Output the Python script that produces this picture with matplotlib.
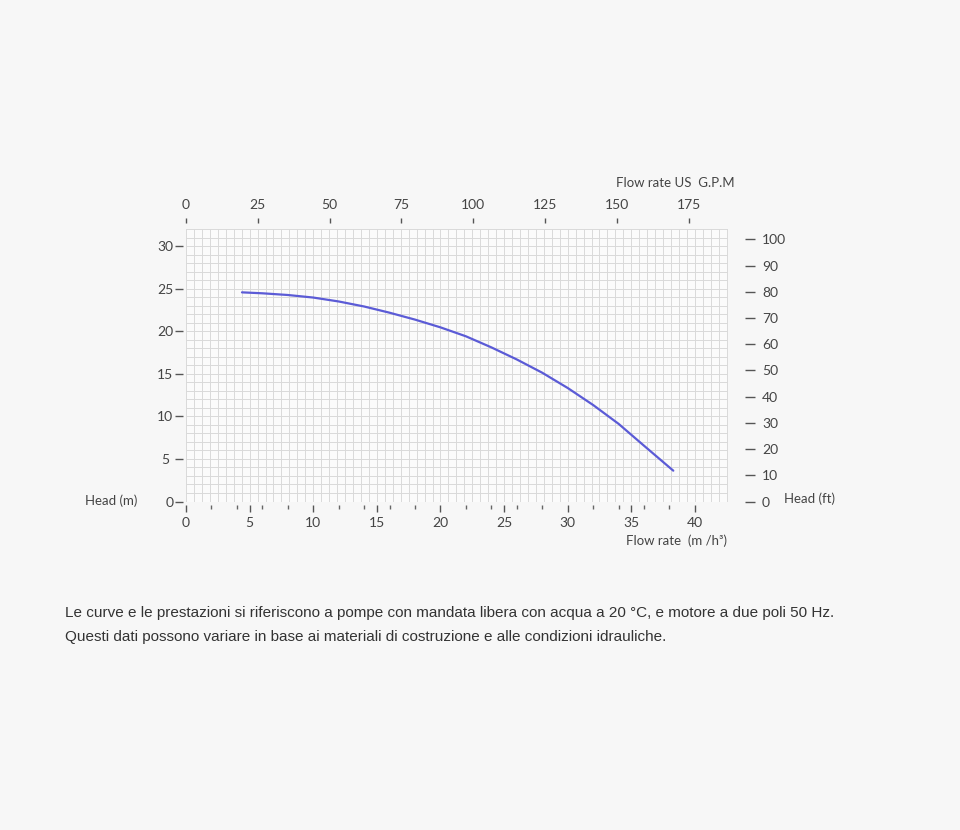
import numpy as np
import matplotlib
matplotlib.use("Agg")
import matplotlib.pyplot as plt
from matplotlib.ticker import FixedLocator

# ---- data ----
flow_m3h = [4.4, 6, 8, 10, 12, 14, 16, 18, 20, 22, 24, 26, 28, 30, 32, 34, 36, 38.3]
head_m = [24.56, 24.45, 24.25, 23.95, 23.49, 22.9, 22.17, 21.36, 20.45, 19.4,
          18.1, 16.68, 15.12, 13.33, 11.33, 9.12, 6.55, 3.62]

head_m_ticks = [0, 5, 10, 15, 20, 25, 30]
head_m_labels = ["0", "5 ", "10", "15", "20", "25", "30"]
flow_ticks = [0, 5, 10, 15, 20, 25, 30, 35, 40]
flow_minor = [2, 4, 6, 8, 12, 14, 16, 18, 22, 24, 26, 28, 32, 34, 36, 38]
gpm_ticks = [0, 25, 50, 75, 100, 125, 150, 175]
head_ft_ticks = [0, 10, 20, 30, 40, 50, 60, 70, 80, 90, 100]

GPM_PER_M3H = 4.43   # as drawn on the chart
FT_PER_M = 3.25

note_lines = [
    "Le curve e le prestazioni si riferiscono a pompe con mandata libera con acqua a 20 °C, "
    "e motore a due poli 50 Hz.",
    "Questi dati possono variare in base ai materiali di costruzione e alle condizioni idrauliche.",
]

BG = "#f7f7f7"
TXT = "#444444"
FONT = ["Lato", "DejaVu Sans"]

W, H = 960, 830
fig = plt.figure(figsize=(W / 100, H / 100), dpi=100, facecolor=BG)

def fx(px):
    return px / W

def fy(py):
    return 1 - py / H

left, right, top, bottom = 186, 728, 229, 501.5
ax = fig.add_axes([fx(left), fy(bottom), fx(right - left), (bottom - top) / H])
ax.set_facecolor("#fbfbfb")
ax.set_xlim(0, 42.6)
ax.set_ylim(0, 32)

# fine grid like graph paper
for xv in np.arange(0, 42.61, 0.625):
    ax.axvline(xv, color="#d9d9d9", lw=0.7, zorder=1)
for yv in np.arange(0, 32.01, 1):
    ax.axhline(yv, color="#d9d9d9", lw=0.7, zorder=1)

ax.plot(flow_m3h, head_m, color="#5b5bd6", lw=1.6, zorder=3,
        solid_capstyle="round", solid_joinstyle="round")

for s in ax.spines.values():
    s.set_visible(False)

# left axis: head (m)
ax.spines["left"].set_position(("outward", 2.5))
ax.set_yticks(head_m_ticks)
ax.set_yticklabels(head_m_labels)
ax.tick_params(axis="y", direction="out", length=5.8, width=1.0, color="#555555",
               pad=0.8, labelsize=10, labelcolor=TXT)

# bottom axis: flow m3/h
ax.spines["bottom"].set_position(("outward", 2.5))
ax.set_xticks(flow_ticks)
ax.xaxis.set_minor_locator(FixedLocator(flow_minor))
ax.tick_params(axis="x", which="major", direction="out", length=5.2, width=1.0,
               color="#555555", pad=3.2, labelsize=10, labelcolor=TXT)
ax.tick_params(axis="x", which="minor", direction="out", length=3.2, width=1.0,
               color="#666666")

# top axis: US GPM
ax_top = ax.secondary_xaxis(1.022, functions=(lambda q: q * GPM_PER_M3H,
                                              lambda g: g / GPM_PER_M3H))
ax_top.set_xticks(gpm_ticks)
ax_top.spines["top"].set_visible(False)
ax_top.tick_params(direction="out", length=3.8, width=1.0, color="#555555",
                   pad=4.5, labelsize=10, labelcolor=TXT)

# right axis: head (ft)
ax_r = ax.secondary_yaxis(1.0314, functions=(lambda h: h * FT_PER_M,
                                             lambda f: f / FT_PER_M))
ax_r.set_yticks(head_ft_ticks)
ax_r.spines["right"].set_visible(False)
ax_r.tick_params(direction="out", length=7.2, width=1.0, color="#555555",
                 pad=5, labelsize=10, labelcolor=TXT)

for a in (ax, ax_top, ax_r):
    for lab in a.get_xticklabels() + a.get_yticklabels():
        lab.set_family(FONT)

# axis titles
fig.text(fx(137), fy(501), "Head (m)", ha="right", va="center", fontsize=9.5,
         color=TXT, family=FONT)
fig.text(fx(784), fy(499), "Head (ft)", ha="left", va="center", fontsize=9.5,
         color=TXT, family=FONT)
fig.text(fx(727), fy(541), "Flow rate  (m /h³)", ha="right", va="center",
         fontsize=9.5, color=TXT, family=FONT)
fig.text(fx(735), fy(183), "Flow rate US  G.P.M", ha="right", va="center",
         fontsize=9.5, color=TXT, family=FONT)

# footnote
for i, line in enumerate(note_lines):
    fig.text(fx(65), fy(613 + 24 * i), line, ha="left", va="center", fontsize=11.0,
             color="#333333", family=["Liberation Sans", "DejaVu Sans"])

fig.savefig("out.png", dpi=100, facecolor=BG)
